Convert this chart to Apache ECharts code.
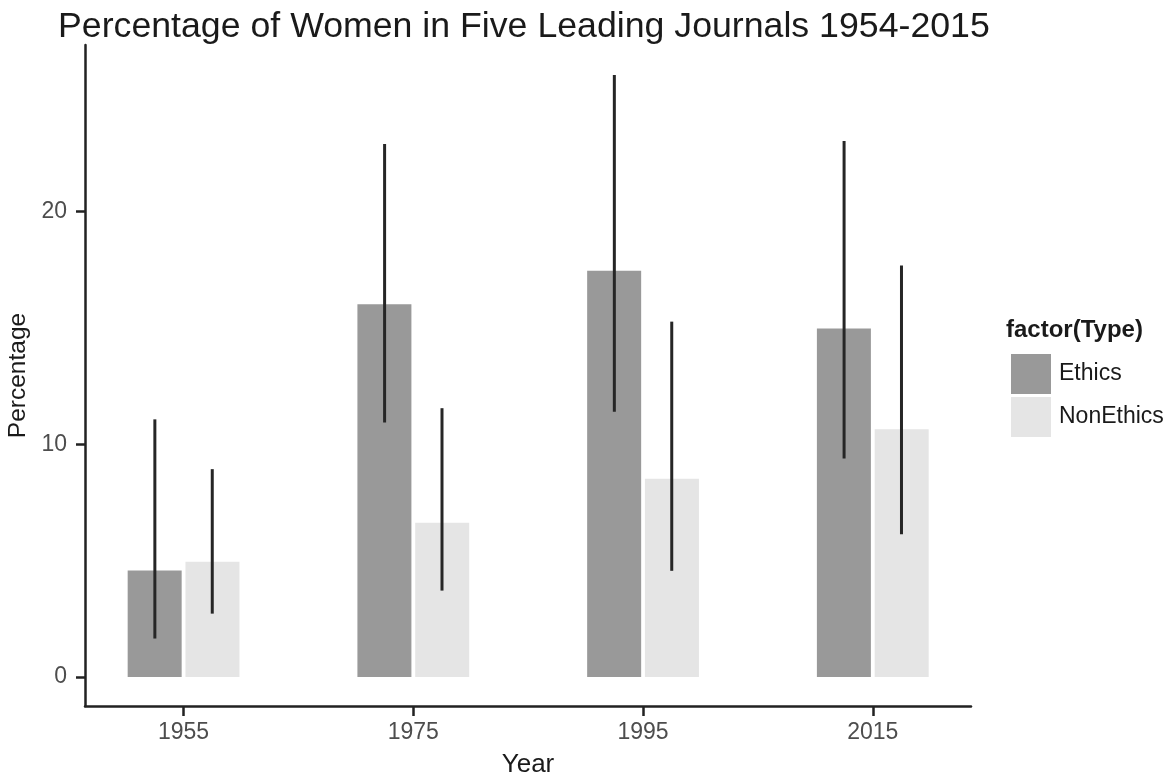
<!DOCTYPE html>
<html>
<head>
<meta charset="utf-8">
<script src="https://cdn.jsdelivr.net/npm/echarts@6/dist/echarts.min.js"></script>
<style>html,body{margin:0;padding:0;background:#fff}#c{width:1167px;height:776px}</style>
</head>
<body>
<div id="c"></div>
<script>
const years = [1955, 1975, 1995, 2015];
const ethics = [4.57, 16.02, 17.46, 14.97];
const ethicsLow = [1.65, 10.93, 11.40, 9.39];
const ethicsHigh = [11.07, 22.90, 25.87, 23.03];
const nonEthics = [4.95, 6.63, 8.52, 10.64];
const nonEthicsLow = [2.72, 3.71, 4.56, 6.13];
const nonEthicsHigh = [8.93, 11.55, 15.27, 17.68];
const yTicks = [0, 10, 20];
const xTicks = [1955, 1975, 1995, 2015];

const chart = echarts.init(document.getElementById('c'));
const FONT = '"Liberation Sans", Arial, sans-serif';

function errSeries(name, low, high, offset) {
  return {
    type: 'custom',
    name: name + ' err',
    z: 5,
    data: years.map((y, i) => [y, low[i], high[i]]),
    encode: { x: 0, y: [1, 2] },
    renderItem: function (params, api) {
      const a = api.coord([api.value(0), api.value(1)]);
      const b = api.coord([api.value(0), api.value(2)]);
      return {
        type: 'line',
        shape: { x1: a[0] + offset, y1: a[1], x2: b[0] + offset, y2: b[1] },
        style: { stroke: '#262626', lineWidth: 3 }
      };
    }
  };
}

chart.setOption({
  animation: false,
  backgroundColor: '#ffffff',
  title: {
    text: 'Percentage of Women in Five Leading Journals 1954-2015',
    left: 53, top: 4,
    textStyle: { fontFamily: FONT, fontSize: 35.7, fontWeight: 'normal', color: '#1a1a1a' }
  },
  graphic: [{
    type: 'text', left: 1006, top: 318,
    style: { text: 'factor(Type)', fontFamily: FONT, fontSize: 24, fontWeight: 'bold', fill: '#1a1a1a' }
  }],
  legend: {
    orient: 'vertical', left: 1006, top: 349,
    itemWidth: 40, itemHeight: 40, itemGap: 3,
    icon: 'rect',
    data: ['Ethics', 'NonEthics'],
    textStyle: { fontFamily: FONT, fontSize: 23, color: '#1a1a1a', padding: [0, 0, 0, 3] }
  },
  grid: { left: 85, right: 196, top: 45, bottom: 70, containLabel: false, outerBoundsMode: 'none' },
  xAxis: {
    type: 'value', min: 1946.42, max: 2023.55,
    name: 'Year', nameLocation: 'middle', nameGap: 46,
    nameTextStyle: { fontFamily: FONT, fontSize: 26, color: '#1a1a1a' },
    axisLine: { show: true, onZero: false, lineStyle: { color: '#222', width: 2.5 } },
    axisTick: { show: true, length: 10, customValues: xTicks, lineStyle: { color: '#222', width: 2.5 } },
    axisLabel: { customValues: xTicks, margin: 15, fontFamily: FONT, fontSize: 23, color: '#4d4d4d',
      formatter: function (v) { return String(v); } },
    splitLine: { show: false }
  },
  yAxis: {
    type: 'value', min: -1.25, max: 27.16,
    name: 'Percentage', nameLocation: 'middle', nameGap: 44, nameRotate: 90,
    nameTextStyle: { fontFamily: FONT, fontSize: 24.5, color: '#1a1a1a' },
    axisLine: { show: true, onZero: false, lineStyle: { color: '#222', width: 2.5 } },
    axisTick: { show: true, length: 9, customValues: yTicks, lineStyle: { color: '#222', width: 2.5 } },
    axisLabel: { customValues: yTicks, margin: 18, fontFamily: FONT, fontSize: 23, color: '#4d4d4d' },
    splitLine: { show: false }
  },
  series: [
    {
      type: 'bar', name: 'Ethics', barWidth: 54, barGap: '7%',
      itemStyle: { color: '#999999' },
      data: years.map((y, i) => [y, ethics[i]])
    },
    {
      type: 'bar', name: 'NonEthics', barWidth: 54, barGap: '7%',
      itemStyle: { color: '#e5e5e5' },
      data: years.map((y, i) => [y, nonEthics[i]])
    },
    errSeries('Ethics', ethicsLow, ethicsHigh, -28.7),
    errSeries('NonEthics', nonEthicsLow, nonEthicsHigh, 28.7)
  ]
});
</script>
</body>
</html>
